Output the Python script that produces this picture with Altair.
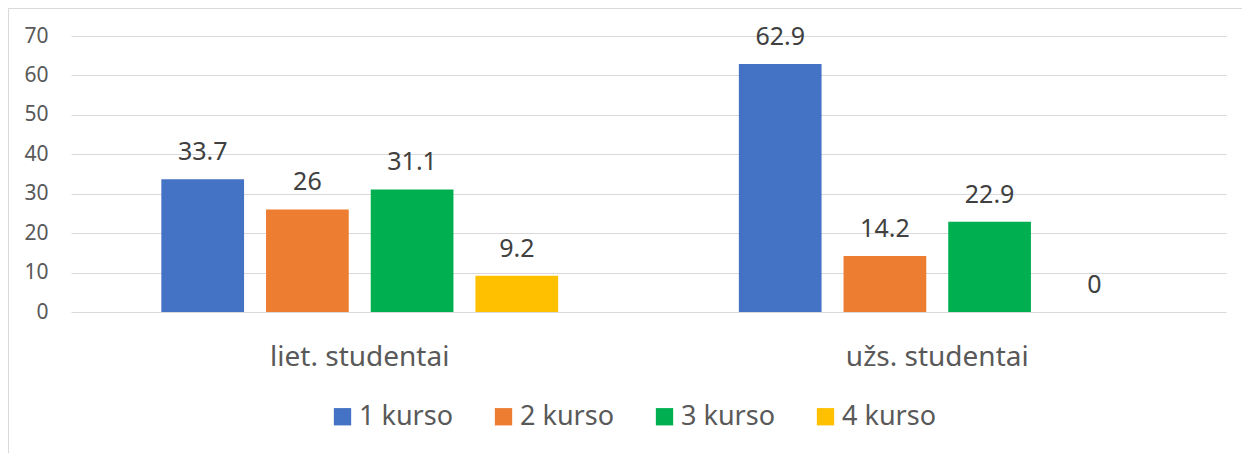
import altair as alt
import pandas as pd

groups = ["liet. studentai", "užs. studentai"]
series = ["1 kurso", "2 kurso", "3 kurso", "4 kurso"]
values_liet = [33.7, 26, 31.1, 9.2]
values_uzs = [62.9, 14.2, 22.9, 0]
colors = ["#4472C4", "#ED7D31", "#00B050", "#FFC000"]
y_ticks = [0, 10, 20, 30, 40, 50, 60, 70]

rows = []
for g, vals in zip(groups, [values_liet, values_uzs]):
    for s, v in zip(series, vals):
        rows.append({"group": g, "series": s, "value": v})
df = pd.DataFrame(rows)

FONT = "Noto Sans"

x_enc = alt.X("group:N", sort=groups, title=None,
              scale=alt.Scale(paddingInner=0, paddingOuter=0),
              axis=alt.Axis(labelAngle=0, domain=False, ticks=False,
                            labelFontSize=28, labelColor="#595959",
                            labelFont=FONT, labelPadding=31, labelLimit=500,
                            grid=False))
xo_enc = alt.XOffset("series:N", sort=series,
                     scale=alt.Scale(paddingInner=0.21, paddingOuter=0.863))
y_enc = alt.Y("value:Q", title=None,
              scale=alt.Scale(domain=[0, 70], nice=False),
              axis=alt.Axis(values=y_ticks, tickCount=8, labelOverlap=False,
                            domain=False, ticks=False,
                            labelFontSize=21, labelColor="#595959",
                            labelFont=FONT, labelPadding=23,
                            grid=True, gridColor="#d9d9d9", gridWidth=1))

base = alt.Chart(df)

bars = base.mark_bar().encode(
    x=x_enc,
    xOffset=xo_enc,
    y=y_enc,
    color=alt.Color("series:N", sort=series,
                    scale=alt.Scale(domain=series, range=colors),
                    legend=alt.Legend(title=None, orient="none",
                                      direction="horizontal",
                                      legendX=258, legendY=367,
                                      symbolType="square", symbolSize=300,
                                      symbolStrokeWidth=0,
                                      labelFontSize=27, labelFont=FONT,
                                      labelColor="#595959", labelOffset=3,
                                      columnPadding=37)),
)

labels = base.mark_text(baseline="alphabetic", dy=-19, fontSize=25,
                        font=FONT, color="#404040").encode(
    x=alt.X("group:N", sort=groups),
    xOffset=alt.XOffset("series:N", sort=series),
    y=alt.Y("value:Q"),
    text=alt.Text("value:Q", format=".1~f"),
)

frame_data = alt.Data(values=[{"a": 1}])
frame_top = alt.Chart(frame_data).mark_rule(color="#d9d9d9", strokeWidth=1).encode(
    x=alt.value(-62.5), x2=alt.value(1300), y=alt.value(-27.5),
)
frame_left = alt.Chart(frame_data).mark_rule(color="#d9d9d9", strokeWidth=1).encode(
    x=alt.value(-62.5), y=alt.value(-27.5), y2=alt.value(600),
)

chart = alt.layer(frame_top, frame_left, bars, labels).properties(
    width=1155, height=276,
    autosize=alt.AutoSizeParams(type="none"),
    padding={"left": 63, "top": 28, "right": 16, "bottom": 141},
).configure(background="white").configure_view(stroke=None)

chart.save("out.html", embed_options={"renderer": "svg", "actions": False})
